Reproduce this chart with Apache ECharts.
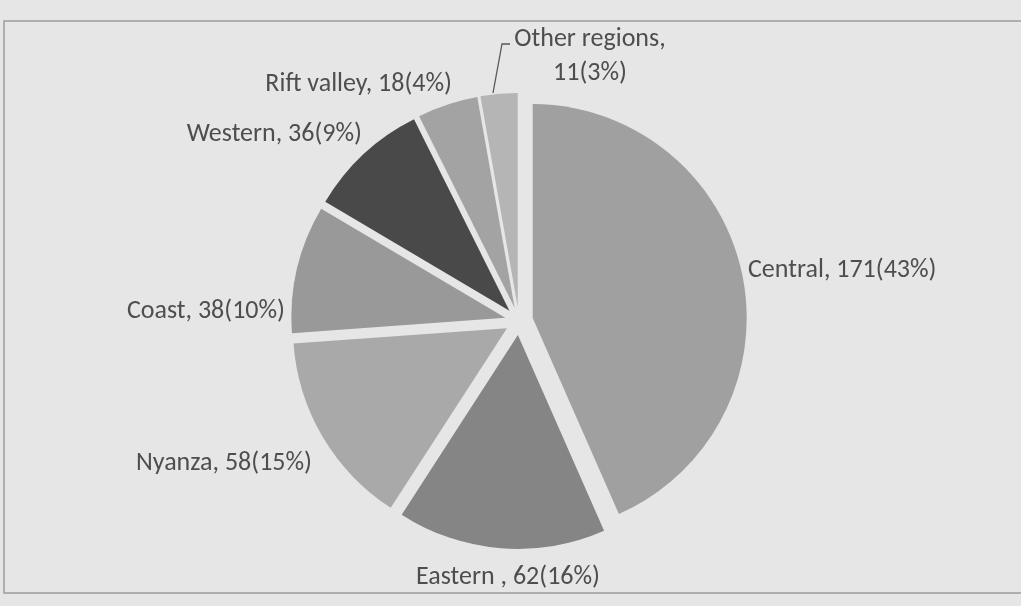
<!DOCTYPE html>
<html>
<head>
<meta charset="utf-8">
<title>Distribution by region</title>
<script src="https://cdn.jsdelivr.net/npm/echarts@6/dist/echarts.min.js"></script>
<style>
  html, body { margin: 0; padding: 0; background: #e6e6e6; }
  #chart { width: 1021px; height: 606px; }
</style>
</head>
<body>
<div id="chart"></div>
<script>
// Respondents by region: count and printed share
const regions = ['Central', 'Eastern ', 'Nyanza', 'Coast', 'Western', 'Rift valley', 'Other regions'];
const counts = [171, 62, 58, 38, 36, 18, 11];
const shares = [43, 16, 15, 10, 9, 4, 3];
const shades = ['#a0a0a0', '#858585', '#a9a9a9', '#999999', '#494949', '#a3a3a3', '#b5b5b5'];

// Where each label sits (anchor point, alignment)
const labelSpots = [
  { x: 748, y: 270, align: 'left' },
  { x: 508, y: 577, align: 'center' },
  { x: 312, y: 463, align: 'right' },
  { x: 285, y: 311, align: 'right' },
  { x: 362, y: 134, align: 'right' },
  { x: 452, y: 84, align: 'right' },
  { x: 590, y: 56, align: 'center' }
];

const PIE_CENTER = [519, 321];
const PIE_RADIUS = 214;

const labelText = i => {
  const sep = i === regions.length - 1 ? ',\n' : ', ';
  return regions[i] + sep + counts[i] + '(' + shares[i] + '%)';
};

const chart = echarts.init(document.getElementById('chart'), null, { renderer: 'canvas' });

chart.setOption({
  backgroundColor: '#e6e6e6',
  animation: false,
  graphic: [
    {
      // chart frame
      type: 'rect',
      shape: { x: 4, y: 21, width: 1040, height: 572 },
      style: { fill: 'none', stroke: '#9c9c9c', lineWidth: 1.5 },
      silent: true,
      z: -1
    },
    {
      // leader from the smallest slice to its label
      type: 'polyline',
      shape: { points: [[493, 93], [502, 44], [510, 44]] },
      style: { fill: 'none', stroke: '#5a5a5a', lineWidth: 1.3 },
      silent: true,
      z: 5
    }
  ],
  series: [
    // Exploded pie: every slice pulled out from the centre
    {
      type: 'pie',
      z: 3,
      center: PIE_CENTER,
      radius: PIE_RADIUS,
      startAngle: 90,
      clockwise: true,
      selectedMode: 'multiple',
      selectedOffset: 14,
      silent: true,
      itemStyle: { borderWidth: 0 },
      emphasis: { disabled: true },
      label: { show: false },
      labelLine: { show: false },
      data: regions.map((name, i) => ({
        name: name,
        value: counts[i],
        selected: true,
        itemStyle: { color: shades[i] }
      }))
    },
    // Same slices, unfilled, carrying the data labels
    {
      type: 'pie',
      z: 2,
      center: PIE_CENTER,
      radius: PIE_RADIUS,
      startAngle: 90,
      clockwise: true,
      silent: true,
      avoidLabelOverlap: false,
      itemStyle: { color: 'rgba(0,0,0,0)', borderWidth: 0 },
      emphasis: { disabled: true },
      label: {
        show: true,
        position: 'outside',
        fontFamily: 'Carlito, "Open Sans", sans-serif',
        fontSize: 26,
        lineHeight: 34,
        color: '#4e4e4e',
        formatter: p => labelText(p.dataIndex)
      },
      labelLine: { show: false },
      labelLayout: p => {
        const s = labelSpots[p.dataIndex];
        return { x: s.x, y: s.y, align: s.align, verticalAlign: 'middle' };
      },
      data: regions.map((name, i) => ({ name: name, value: counts[i] }))
    }
  ]
});
</script>
</body>
</html>
